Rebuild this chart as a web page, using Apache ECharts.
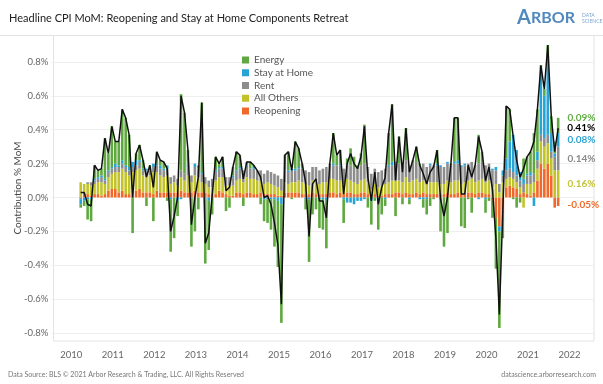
<!DOCTYPE html>
<html><head><meta charset="utf-8">
<script src="https://cdn.jsdelivr.net/npm/echarts@6/dist/echarts.min.js"></script>
<style>html,body{margin:0;padding:0;background:#fff}#c{width:603px;height:384px}</style>
</head><body><div id="c"></div>
<script>
const months = [
'2010-03','2010-04','2010-05','2010-06','2010-07','2010-08','2010-09','2010-10','2010-11','2010-12',
'2011-01','2011-02','2011-03','2011-04','2011-05','2011-06','2011-07','2011-08','2011-09','2011-10','2011-11','2011-12',
'2012-01','2012-02','2012-03','2012-04','2012-05','2012-06','2012-07','2012-08','2012-09','2012-10','2012-11','2012-12',
'2013-01','2013-02','2013-03','2013-04','2013-05','2013-06','2013-07','2013-08','2013-09','2013-10','2013-11','2013-12',
'2014-01','2014-02','2014-03','2014-04','2014-05','2014-06','2014-07','2014-08','2014-09','2014-10','2014-11','2014-12',
'2015-01','2015-02','2015-03','2015-04','2015-05','2015-06','2015-07','2015-08','2015-09','2015-10','2015-11','2015-12',
'2016-01','2016-02','2016-03','2016-04','2016-05','2016-06','2016-07','2016-08','2016-09','2016-10','2016-11','2016-12',
'2017-01','2017-02','2017-03','2017-04','2017-05','2017-06','2017-07','2017-08','2017-09','2017-10','2017-11','2017-12',
'2018-01','2018-02','2018-03','2018-04','2018-05','2018-06','2018-07','2018-08','2018-09','2018-10','2018-11','2018-12',
'2019-01','2019-02','2019-03','2019-04','2019-05','2019-06','2019-07','2019-08','2019-09','2019-10','2019-11','2019-12',
'2020-01','2020-02','2020-03','2020-04','2020-05','2020-06','2020-07','2020-08','2020-09','2020-10','2020-11','2020-12',
'2021-01','2021-02','2021-03','2021-04','2021-05','2021-06','2021-07','2021-08','2021-09'];

const headline = [
0.03,0.03,-0.04,-0.05,0.19,0.16,0.17,0.35,0.26,0.42,
0.33,0.33,0.52,0.47,0.37,0.00,0.26,0.31,0.22,0.12,0.19,0.06,
0.27,0.22,0.21,0.17,-0.20,-0.11,0.00,0.60,0.50,0.28,-0.16,0.00,
0.12,0.56,-0.27,-0.21,0.01,0.24,0.20,0.24,0.04,0.06,0.18,0.27,
0.25,0.11,0.21,0.21,0.19,0.16,0.12,0.00,0.01,-0.04,-0.15,-0.28,
-0.63,0.25,0.27,0.16,0.33,0.29,0.20,0.09,-0.23,0.08,0.11,-0.02,
-0.02,-0.12,0.20,0.38,0.25,0.28,0.02,0.20,0.26,0.20,0.17,0.24,
0.42,0.12,-0.02,0.15,-0.04,0.06,0.12,0.38,0.55,0.10,0.36,0.15,
0.41,0.15,0.22,0.30,0.19,0.14,0.08,0.15,0.18,0.28,-0.01,-0.11,
0.00,0.20,0.47,0.47,0.02,0.02,0.19,0.12,0.19,0.36,0.27,0.10,
0.18,0.05,-0.24,-0.69,-0.08,0.54,0.52,0.36,0.22,0.12,0.17,0.24,
0.27,0.33,0.52,0.78,0.64,0.90,0.48,0.27,0.41];

const reopening = [
0.00,0.03,0.02,0.01,0.02,0.02,0.01,0.02,0.04,0.05,
0.05,0.03,0.04,0.02,0.02,0.01,0.04,0.05,0.03,0.03,0.03,0.02,
0.04,0.03,0.03,0.03,0.03,0.03,0.03,0.04,0.03,0.03,0.03,0.04,
0.03,0.03,0.03,0.02,0.02,0.02,0.04,0.03,0.02,0.01,0.01,0.03,
0.03,0.02,0.03,0.03,0.02,0.02,0.03,0.02,0.02,0.02,0.02,0.01,
0.01,0.03,0.03,0.03,0.03,0.03,0.02,0.02,0.02,0.03,0.02,0.02,
0.02,0.02,0.03,0.03,0.02,0.03,0.02,0.03,0.03,0.02,0.02,0.03,
0.03,0.02,0.00,0.02,0.01,0.01,0.02,0.02,0.02,0.03,0.03,0.02,
0.03,0.02,0.02,0.03,0.02,0.03,0.02,0.02,0.02,0.02,0.02,0.02,
0.03,0.02,0.02,0.03,0.02,0.02,0.03,0.03,0.02,0.03,0.03,0.02,
0.02,-0.02,-0.12,-0.17,-0.10,0.06,0.07,0.06,0.05,0.02,0.03,0.02,
0.01,0.03,0.10,0.20,0.17,0.20,0.13,-0.06,-0.05];

const allOthers = [
0.09,0.05,0.06,0.06,0.06,0.07,0.08,0.06,0.08,0.09,
0.10,0.12,0.13,0.13,0.11,0.14,0.12,0.12,0.10,0.10,0.10,0.13,
0.11,0.10,0.09,0.10,0.05,0.06,0.04,0.08,0.07,0.10,0.06,0.09,
0.09,0.06,0.05,0.04,0.04,0.08,0.08,0.09,0.05,0.06,0.06,0.07,
0.08,0.07,0.09,0.08,0.09,0.08,0.07,0.06,0.07,0.06,0.05,0.05,
0.03,0.06,0.05,0.06,0.06,0.07,0.07,0.06,0.05,0.07,0.08,0.06,
0.07,0.07,0.08,0.08,0.08,0.07,0.06,0.08,0.07,0.07,0.06,0.07,
0.08,0.07,0.05,0.06,0.05,0.06,0.06,0.07,0.08,0.07,0.07,0.07,
0.09,0.07,0.08,0.08,0.07,0.07,0.06,0.07,0.07,0.07,0.06,0.06,
0.07,0.07,0.08,0.07,0.06,0.07,0.07,0.08,0.07,0.07,0.08,0.07,
0.08,0.06,0.08,0.03,0.09,0.05,0.05,0.05,0.04,0.04,-0.06,0.06,
0.07,0.06,0.07,0.13,0.13,0.12,0.10,0.16,0.16];

const rent = [
-0.01,0.00,0.01,0.02,0.02,0.02,0.03,0.02,0.03,0.03,
0.03,0.03,0.03,0.03,0.03,0.03,0.03,0.04,0.03,0.03,0.03,0.03,
0.04,0.04,0.04,0.04,0.04,0.04,0.04,0.04,0.04,0.05,0.04,0.05,
0.05,0.05,0.04,0.04,0.05,0.05,0.05,0.05,0.05,0.05,0.05,0.05,
0.06,0.06,0.06,0.06,0.06,0.06,0.06,0.06,0.07,0.07,0.07,0.07,
0.07,0.07,0.07,0.07,0.07,0.07,0.08,0.08,0.08,0.08,0.08,0.08,
0.08,0.09,0.09,0.08,0.09,0.09,0.09,0.09,0.09,0.09,0.09,0.09,
0.09,0.09,0.09,0.09,0.09,0.09,0.09,0.09,0.09,0.10,0.10,0.10,
0.10,0.10,0.10,0.10,0.10,0.10,0.10,0.10,0.10,0.10,0.10,0.10,
0.10,0.10,0.10,0.10,0.10,0.10,0.10,0.10,0.10,0.10,0.10,0.10,
0.10,0.10,0.08,0.05,0.04,0.05,0.05,0.04,0.04,0.04,0.05,0.05,
0.05,0.05,0.05,0.04,0.05,0.05,0.04,0.08,0.14];

const stayAtHome = [
-0.03,-0.02,-0.01,-0.01,0.01,0.01,0.01,0.01,0.01,0.01,
0.02,0.01,0.02,0.01,0.02,0.03,0.03,0.01,0.01,0.01,0.01,0.02,
0.01,0.02,0.01,0.02,-0.01,0.00,-0.02,-0.01,0.00,0.02,0.00,0.02,
0.02,0.01,-0.01,-0.02,0.00,0.01,0.01,0.01,0.00,0.00,0.01,0.01,
0.01,0.01,0.01,0.00,0.01,0.00,0.00,-0.01,-0.01,-0.01,-0.01,-0.02,
-0.04,0.02,0.01,0.01,0.01,0.01,0.00,-0.01,-0.01,0.00,0.00,-0.01,
-0.01,-0.02,0.00,0.01,0.00,0.01,-0.01,-0.03,-0.03,-0.04,-0.02,-0.02,
-0.01,0.00,-0.02,0.00,-0.01,0.00,-0.01,0.01,0.02,0.01,0.00,0.00,
0.00,-0.01,0.00,0.00,-0.01,-0.01,-0.01,0.01,0.00,0.01,0.01,0.00,
0.01,0.00,0.01,0.02,0.01,0.01,0.00,0.00,0.00,-0.01,0.00,-0.01,
0.00,0.01,0.02,-0.03,0.03,0.07,0.16,0.22,0.15,0.05,0.03,0.01,
0.02,-0.05,0.05,0.40,0.25,0.45,0.11,0.02,0.08];

const energy = [
-0.02,-0.03,-0.12,-0.13,0.08,0.04,0.04,0.24,0.10,0.24,
0.13,0.14,0.30,0.28,0.19,-0.21,0.04,0.09,0.05,-0.05,0.02,-0.14,
0.07,0.03,0.04,-0.02,-0.31,-0.24,-0.09,0.45,0.36,0.08,-0.29,-0.20,
-0.07,0.41,-0.38,-0.29,-0.10,0.08,0.02,0.06,-0.08,-0.06,0.05,0.11,
0.07,-0.05,0.02,0.04,0.01,0.00,-0.04,-0.13,-0.14,-0.18,-0.28,-0.39,
-0.70,0.07,0.11,-0.01,0.16,0.11,0.03,-0.06,-0.37,-0.10,-0.07,-0.17,
-0.18,-0.28,0.00,0.18,0.06,0.08,-0.14,0.03,0.10,0.06,0.02,0.07,
0.23,-0.06,-0.14,-0.02,-0.18,-0.10,-0.04,0.19,0.34,-0.11,0.16,-0.04,
0.19,-0.03,0.02,0.09,0.01,-0.05,-0.09,-0.05,-0.01,0.08,-0.20,-0.29,
-0.21,0.01,0.26,0.25,-0.17,-0.18,-0.01,-0.09,0.00,0.17,0.06,-0.08,
-0.02,-0.10,-0.30,-0.57,-0.14,0.31,0.19,-0.01,-0.06,-0.03,0.12,0.10,
0.12,0.24,0.25,0.01,0.04,0.08,0.10,0.07,0.09];

const yearLabels = ['2010','2011','2012','2013','2014','2015','2016','2017','2018','2019','2020','2021','2022'];
const yTicks = [-0.8,-0.6,-0.4,-0.2,0,0.2,0.4,0.6,0.8];

const FONT = 'Lato';
// category axis: every month from 2009-07 to 2022-07 (padding months carry no data)
const axisMonths = [];
for (let i = 0; i < 157; i++) {
  const m = i - 6;
  const y = 2010 + Math.floor(m / 12);
  const mm = ((m % 12) + 12) % 12 + 1;
  axisMonths.push(y + '-' + (mm < 10 ? '0' : '') + mm);
}
const lastMonth = months[months.length - 1];
const pick = arr => axisMonths.map(c => { const k = months.indexOf(c); return k >= 0 ? arr[k] : null; });

function barSeries(name, arr, color, labelColor, extra) {
  return {
    name, type: 'bar', stack: 'cpi', barWidth: 2.6,
    itemStyle: { color },
    emphasis: { disabled: true },
    data: pick(arr).map((v, i) => {
      if (axisMonths[i] !== lastMonth) return v;
      return {
        value: v,
        label: Object.assign({
          show: true, position: 'right', distance: 8, color: labelColor,
          fontWeight: 'bold', fontSize: 10, fontFamily: FONT,
          formatter: p => (+p.value).toFixed(2) + '%'
        }, extra || {})
      };
    })
  };
}

const chart = echarts.init(document.getElementById('c'));
chart.setOption({
  animation: false,
  backgroundColor: '#fff',
  textStyle: { fontFamily: FONT },
  grid: { left: 51.3, right: 8.5, top: 35, bottom: 43, show: false, outerBoundsMode: 'none' },
  legend: {
    data: ['Energy', 'Stay at Home', 'Rent', 'All Others', 'Reopening'],
    orient: 'vertical', left: 237, top: 50, itemWidth: 7, itemHeight: 7, itemGap: 2.75,
    icon: 'rect', selectedMode: false,
    textStyle: { fontSize: 10, color: '#555', fontFamily: FONT, lineHeight: 10 }
  },
  xAxis: {
    type: 'category', data: axisMonths, boundaryGap: true,
    axisLine: { show: false }, axisTick: { show: false }, splitLine: { show: false },
    axisLabel: {
      interval: (i, v) => v.slice(5) === '12',
      color: '#666', fontSize: 9.5, fontFamily: FONT, margin: 9, padding: [0, 0, 0, 2],
      formatter: v => String(+v.slice(0, 4) + 1)
    }
  },
  yAxis: {
    type: 'value', min: -0.847, max: 0.959,
    name: 'Contribution % MoM', nameLocation: 'middle', nameGap: 29, nameMoveOverlap: false,
    nameTextStyle: { fontSize: 10, color: '#444', fontFamily: FONT },
    axisLine: { show: false },
    axisTick: { show: false, customValues: yTicks },
    splitLine: { show: true, lineStyle: { color: '#eeeeee', width: 1 } },
    axisLabel: {
      customValues: yTicks, color: '#666', fontSize: 9.5, fontFamily: FONT, margin: 3,
      formatter: v => v.toFixed(1) + '%'
    }
  },
  series: [
    barSeries('Reopening', reopening, '#f0692b', '#ee6a2c', { offset: [0, 3] }),
    barSeries('All Others', allOthers, '#c2c32b', '#c4c33a'),
    barSeries('Rent', rent, '#8d8d8d', '#8a8a8a'),
    barSeries('Stay at Home', stayAtHome, '#27a3d5', '#2ea5d6'),
    barSeries('Energy', energy, '#5fa83f', '#62ad45', { offset: [0, -8] }),
    {
      name: 'Headline', type: 'line', symbol: 'none', z: 5, connectNulls: false,
      lineStyle: { color: '#111', width: 1.5 },
      emphasis: { disabled: true },
      data: pick(headline),
      endLabel: {
        show: true, distance: 9, color: '#000', fontWeight: 'bold', fontSize: 10, fontFamily: FONT,
        formatter: p => (+p.value).toFixed(2) + '%'
      }
    }
  ],
  graphic: [
    { type: 'line', shape: { x1: 0, y1: 35.5, x2: 603, y2: 35.5 }, style: { stroke: '#e3e3e3', lineWidth: 1 } },
    { type: 'rect', shape: { x: 53.5, y: 35.5, width: 540.5, height: 305.5 }, style: { fill: 'none', stroke: '#e3e3e3', lineWidth: 1 }, z: -1 },
    { type: 'text', left: 9, top: 13, style: { text: 'Headline CPI MoM: Reopening and Stay at Home Components Retreat', font: '11px Lato', fill: '#222' } },
    { type: 'text', left: 517, top: 8, style: {
        text: '{a|A}{b|RBOR}',
        rich: { a: { font: 'bold 20px Lato', fill: '#5189bd' }, b: { font: 'bold 16px Lato', fill: '#5189bd' } } } },
    { type: 'text', left: 582, top: 12, style: { text: 'DATA\nSCIENCE', font: '5px Lato', fill: '#7aa6cf', lineHeight: 6 } },
    { type: 'text', left: 8, top: 371, style: { text: 'Data Source: BLS \u00A9 2021 Arbor Research & Trading, LLC. All Rights Reserved', font: '7px Lato', fill: '#777' } },
    { type: 'text', right: 7, top: 371, style: { text: 'datascience.arborresearch.com', font: '7px Lato', fill: '#777' } }
  ]
});
</script>
</body></html>
